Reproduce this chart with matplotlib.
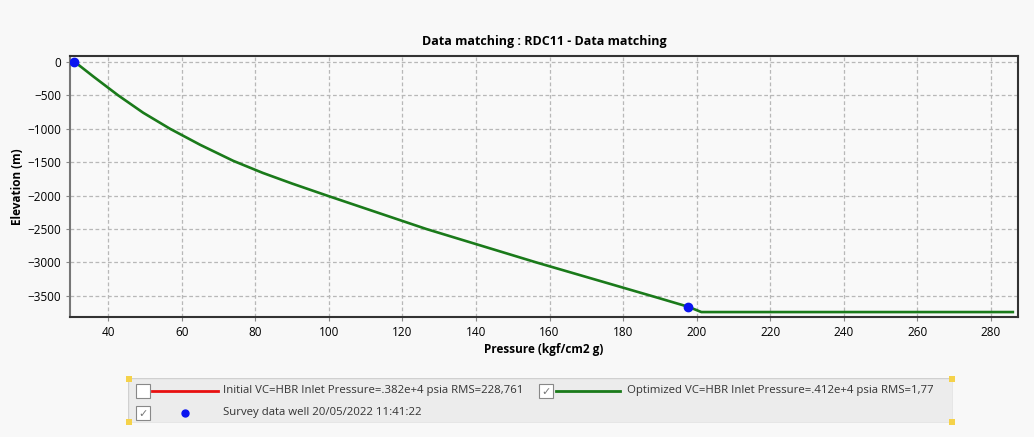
import matplotlib.pyplot as plt
from matplotlib.patches import Rectangle
from matplotlib.lines import Line2D

# optimized profile (pressure kgf/cm2 g, elevation m)
pressure = [30.9, 36.0, 42.7, 49.5, 56.8, 65.0, 74.0, 82.0, 90.0, 99.5,
            126.5, 156.4, 189.5, 197.8, 201.3, 286.0]
elevation = [0, -220, -500, -760, -1000, -1240, -1480, -1660, -1820, -2000,
             -2500, -3000, -3530, -3665, -3743, -3743]

survey_p = [30.7, 197.8]
survey_z = [0, -3665]

title = 'Data matching : RDC11 - Data matching'
legend_initial = 'Initial VC=HBR Inlet Pressure=.382e+4 psia RMS=228,761'
legend_optimized = 'Optimized VC=HBR Inlet Pressure=.412e+4 psia RMS=1,77'
legend_survey = 'Survey data well 20/05/2022 11:41:22'

plt.rcParams['font.family'] = ['Open Sans', 'DejaVu Sans']

fig = plt.figure(figsize=(10.34, 4.37), dpi=100, facecolor='#f8f8f8')
ax = fig.add_axes([0.0677, 0.2746, 0.9168, 0.5974])
ax.set_facecolor('#f9f9f9')

ax.plot(pressure, elevation, color='#1a7a1a', lw=1.9, zorder=3)
ax.plot(survey_p, survey_z, 'o', color='#0a14f0', ms=6, zorder=4)

ax.set_xlim(29.6, 287.4)
ax.set_ylim(-3817, 90)
ax.set_xticks(range(40, 281, 20))
ax.set_yticks(range(-3500, 1, 500))
ax.grid(True, ls=(0, (3, 2)), color='#b8b8b8', lw=0.9)
ax.tick_params(labelsize=8.5, length=3, color='#888888')
for s in ax.spines.values():
    s.set_color('#333333')
    s.set_linewidth(1.5)
ax.spines['left'].set_color('#777777')

ax.set_title(title, fontsize=9, fontweight='bold', pad=8)
ax.set_xlabel('Pressure (kgf/cm2 g)', fontsize=8.5, fontweight='bold', labelpad=3)
ax.set_ylabel('Elevation (m)', fontsize=8.5, fontweight='bold', labelpad=2)

# legend panel, drawn like the original control
lg = fig.add_axes([128 / 1034, 1 - 423 / 437, 825 / 1034, 45 / 437])
lg.set_xlim(128, 953)
lg.set_ylim(423, 378)
lg.axis('off')
lg.add_patch(Rectangle((128, 378), 825, 45, facecolor='#ececec',
                       edgecolor='#d0d0d0', lw=1))


def checkbox(x, y, checked):
    lg.add_patch(Rectangle((x - 7, y - 7), 14, 14, facecolor='white',
                           edgecolor='#888888', lw=0.8))
    if checked:
        lg.text(x, y + 0.5, '\u2713', fontsize=8, color='#777777',
                ha='center', va='center', family='DejaVu Sans')


checkbox(143, 391, False)
lg.add_line(Line2D([152, 218], [391, 391], color='#e81010', lw=2))
lg.text(223, 391, legend_initial, fontsize=8.2, color='#333333', va='center')

checkbox(546, 391, True)
lg.add_line(Line2D([556, 620], [391, 391], color='#1a7a1a', lw=2))
lg.text(627, 391, legend_optimized, fontsize=8.2, color='#333333', va='center')

checkbox(143, 413, True)
lg.plot([185], [413], 'o', color='#0a14f0', ms=5)
lg.text(223, 413, legend_survey, fontsize=8.2, color='#333333', va='center')

for cx, cy in [(129, 379), (129, 422), (952, 379), (952, 422)]:
    lg.add_patch(Rectangle((cx - 3, cy - 3), 6, 6, facecolor='#f5d24a',
                           edgecolor='none', clip_on=False))

fig.savefig('out.png', dpi=100, facecolor=fig.get_facecolor())
